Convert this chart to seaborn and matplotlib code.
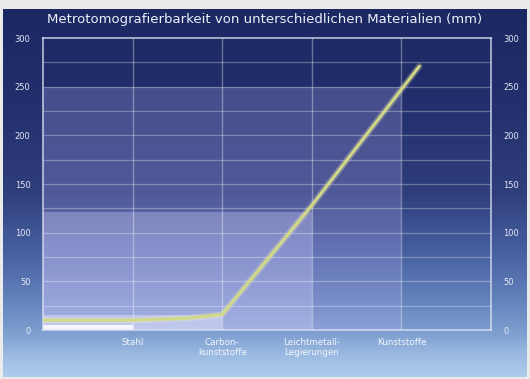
import numpy as np
import pandas as pd
import matplotlib
matplotlib.use('Agg')
import matplotlib.pyplot as plt
from matplotlib.colors import LinearSegmentedColormap
import seaborn as sns

# Data
materials = ['Stahl', 'Carbon-\nkunststoffe', 'Leichtmetall-\nLegierungen', 'Kunststoffe']
material_pos = [1, 2, 3, 4]
max_depth = [5, 15, 121, 250]          # mm, overlay band heights

curve_x = [0, 1, 1.6, 2, 3, 4.2]
curve_y = [10, 10, 12, 16, 128, 271]

y_ticks = [0, 50, 100, 150, 200, 250, 300]

sns.set_style('white')
plt.rcParams['font.family'] = ['DejaVu Sans']

fig = plt.figure(figsize=(5.3, 3.79), dpi=100)
fig.patch.set_facecolor('#ebebeb')

# gradient background panel (bottom -> top)
bg = fig.add_axes([3 / 530, 2 / 379, 524 / 530, 368 / 379])
grad = LinearSegmentedColormap.from_list('bg', [
    (0.0, '#adcdec'), (0.06, '#9abae2'), (0.11, '#82a2d2'), (0.2, '#6585bd'),
    (0.33, '#4862a2'), (0.5, '#2f3e7c'), (0.75, '#222f6c'), (1.0, '#1b2862')])
bg.imshow(np.linspace(0, 1, 256).reshape(-1, 1), aspect='auto', cmap=grad,
          origin='lower', extent=[0, 1, 0, 1])
bg.set_axis_off()

ax = fig.add_axes([43 / 530, 49 / 379, 448 / 530, 292 / 379])
ax.patch.set_alpha(0)

# nested light bands, widest first
band_alpha = [0.85, 0.4, 0.32, 0.25]
band_color = ['#ffffff', '#eeeeff', '#d8d4ff', '#b8aef0']
for i in range(len(materials) - 1, -1, -1):
    ax.bar(0, max_depth[i], width=material_pos[i], align='edge',
           color=band_color[i], alpha=band_alpha[i], linewidth=0, zorder=1)

# grid
for v in range(25, 300, 25):
    ax.axhline(v, color='white', alpha=0.3, lw=0.9, zorder=2)
for p in material_pos:
    ax.axvline(p, color='white', alpha=0.35, lw=1.0, zorder=2)

# curve with soft glow
df = pd.DataFrame({'x': curve_x, 'y': curve_y})
sns.lineplot(data=df, x='x', y='y', ax=ax, color='#f4f2b0', lw=4.5, alpha=0.3, zorder=3)
sns.lineplot(data=df, x='x', y='y', ax=ax, color='#d2da86', lw=2.0, zorder=4)

ax.set_xlim(0, 5)
ax.set_ylim(0, 300)
ax.set_xlabel('')
ax.set_ylabel('')
ax.set_xticks(material_pos)
ax.set_xticklabels(materials, fontsize=6.3, color='#f2f4fa', linespacing=1.1)
ax.set_yticks(y_ticks)
ax.set_yticklabels([str(t) for t in y_ticks], fontsize=6, color='#e4e8f4')
ax.tick_params(axis='both', length=0, pad=9)
ax.tick_params(axis='x', pad=6)
ax.tick_params(axis='y', right=True, labelright=True)
for s in ax.spines.values():
    s.set_visible(True)
    s.set_color('#dfe4f4')
    s.set_alpha(0.8)
    s.set_linewidth(1.2)

fig.text(0.5, 1 - 20 / 379, 'Metrotomografierbarkeit von unterschiedlichen Materialien (mm)',
         ha='center', va='center', fontsize=9.5, color='#eef0fa')

fig.savefig('out.png', dpi=100, facecolor=fig.get_facecolor())
